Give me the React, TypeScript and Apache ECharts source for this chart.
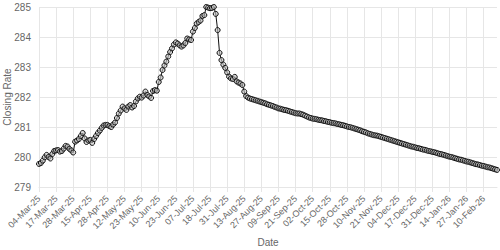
import React, { useEffect, useRef } from "react";
import * as echarts from "echarts";

const monthDays: [string, number[]][] = [
  ["Mar-25", [4, 5, 6, 7, 10, 11, 12, 13, 14, 17, 18, 19, 20, 21, 24, 25, 26, 27, 28, 31]],
  ["Apr-25", [1, 2, 3, 4, 7, 8, 9, 15, 16, 17, 18, 21, 22, 23, 24, 25, 28, 29, 30]],
  ["May-25", [2, 5, 6, 7, 8, 9, 12, 13, 14, 15, 16, 19, 20, 21, 22, 23, 26, 27, 28, 29, 30]],
  ["Jun-25", [2, 3, 4, 10, 11, 12, 13, 16, 17, 18, 19, 20, 23, 24, 25, 26, 27, 30]],
  ["Jul-25", [1, 2, 3, 7, 8, 9, 10, 11, 14, 15, 16, 17, 18, 21, 22, 23, 24, 25, 28, 29, 30, 31]],
  ["Aug-25", [1, 4, 5, 6, 7, 8, 11, 12, 13, 14, 15, 18, 19, 20, 21, 22, 25, 27, 28, 29]],
  ["Sep-25", [1, 2, 3, 4, 5, 8, 9, 10, 11, 12, 15, 16, 17, 18, 19, 21, 22, 23, 24, 25, 26, 29, 30]],
  ["Oct-25", [1, 2, 3, 6, 7, 8, 9, 10, 13, 14, 15, 16, 17, 20, 21, 22, 23, 24, 27, 28, 29, 30, 31]],
  ["Nov-25", [3, 4, 5, 6, 7, 10, 11, 12, 13, 14, 17, 18, 19, 20, 21, 24, 25, 26, 27, 28]],
  ["Dec-25", [1, 2, 3, 4, 5, 8, 9, 10, 11, 12, 15, 16, 17, 18, 19, 22, 23, 24, 26, 29, 30, 31]],
  ["Jan-26", [2, 5, 6, 7, 8, 9, 12, 13, 14, 15, 16, 19, 20, 21, 22, 23, 26, 27, 28, 29, 30]],
  ["Feb-26", [2, 3, 4, 5, 6, 10, 11, 12, 13, 16, 17, 18, 19]],
];

const dates: string[] = monthDays.flatMap(([m, days]) =>
  days.map((d) => `${String(d).padStart(2, "0")}-${m}`)
);

const closingRate: number[] = [
  279.77, 279.80, 279.88, 279.99, 280.07, 280.00, 279.95, 280.10, 280.20, 280.22,
  280.23, 280.18, 280.20, 280.28, 280.37, 280.35, 280.27, 280.22, 280.15, 280.51,
  280.55, 280.60, 280.70, 280.80, 280.62, 280.50, 280.55, 280.57, 280.47, 280.60,
  280.70, 280.80, 280.88, 280.97, 281.05, 281.07, 281.07, 281.03, 281.00, 281.08,
  281.15, 281.30, 281.45, 281.55, 281.68, 281.62, 281.57, 281.68, 281.73, 281.65,
  281.70, 281.85, 281.95, 282.01, 281.98, 282.05, 282.18, 282.07, 282.02, 281.97,
  282.20, 282.23, 282.21, 282.50, 282.65, 282.90, 283.05, 283.18, 283.35, 283.50,
  283.62, 283.75, 283.82, 283.78, 283.72, 283.68, 283.72, 283.80, 283.95, 283.92,
  283.90, 284.18, 284.30, 284.45, 284.50, 284.55, 284.70, 284.73, 285.00, 284.98,
  284.96, 284.97, 285.00, 284.77, 284.23, 283.47, 283.23, 283.08, 282.97, 282.82,
  282.68, 282.62, 282.60, 282.67, 282.52, 282.48, 282.45, 282.40, 282.18, 282.03,
  281.98, 281.95, 281.93, 281.91, 281.89, 281.87, 281.85, 281.83, 281.81, 281.79,
  281.76, 281.74, 281.72, 281.70, 281.67, 281.65, 281.62, 281.61, 281.59, 281.57,
  281.56, 281.54, 281.52, 281.50, 281.48, 281.46, 281.45, 281.45, 281.43, 281.41,
  281.38, 281.35, 281.32, 281.30, 281.28, 281.27, 281.26, 281.24, 281.23, 281.22,
  281.20, 281.19, 281.17, 281.16, 281.14, 281.13, 281.12, 281.10, 281.09, 281.07,
  281.06, 281.04, 281.02, 281.00, 280.99, 280.97, 280.95, 280.93, 280.91, 280.89,
  280.86, 280.84, 280.82, 280.79, 280.77, 280.75, 280.73, 280.72, 280.71, 280.69,
  280.67, 280.65, 280.63, 280.61, 280.59, 280.57, 280.55, 280.53, 280.51, 280.49,
  280.47, 280.45, 280.43, 280.41, 280.39, 280.37, 280.35, 280.34, 280.32, 280.30,
  280.29, 280.27, 280.25, 280.24, 280.22, 280.20, 280.19, 280.17, 280.16, 280.14,
  280.12, 280.10, 280.09, 280.07, 280.05, 280.03, 280.01, 280.00, 279.98, 279.96,
  279.94, 279.92, 279.91, 279.89, 279.87, 279.85, 279.84, 279.82, 279.80, 279.78,
  279.76, 279.75, 279.73, 279.71, 279.70, 279.68, 279.66, 279.65, 279.63, 279.61,
  279.59, 279.57,
];

const yMin = 279;
const yMax = 285;
const yStep = 1;
const labelEvery = 9;

export default function App() {
  const ref = useRef<HTMLDivElement>(null);
  useEffect(() => {
    if (!ref.current) return;
    const chart = echarts.init(ref.current, null, { renderer: "svg" });
    const gridColor = "#e6e6e6";
    const textColor = "#666";
    const font = "Liberation Sans, Arial, sans-serif";
    chart.setOption({
      animation: false,
      backgroundColor: "#fff",
      grid: {
        left: 39,
        right: 3,
        top: 7,
        bottom: 63,
        containLabel: false,
        outerBoundsMode: "none",
      },
      xAxis: {
        type: "category",
        data: dates,
        boundaryGap: false,
        name: "Date",
        nameLocation: "middle",
        nameGap: 50,
        nameMoveOverlap: false,
        nameTextStyle: { color: textColor, fontSize: 10, fontFamily: font },
        axisLine: { show: true, lineStyle: { color: gridColor } },
        axisTick: {
          show: true,
          interval: labelEvery - 1,
          length: 5,
          lineStyle: { color: gridColor },
        },
        axisLabel: {
          interval: labelEvery - 1,
          rotate: 45,
          color: textColor,
          fontSize: 9,
          fontFamily: font,
          margin: 10,
        },
        splitLine: {
          show: true,
          interval: labelEvery - 1,
          lineStyle: { color: gridColor, width: 1 },
        },
      },
      yAxis: {
        type: "value",
        min: yMin,
        max: yMax,
        interval: yStep,
        name: "Closing Rate",
        nameLocation: "middle",
        nameGap: 27,
        nameMoveOverlap: false,
        nameTextStyle: { color: textColor, fontSize: 10, fontFamily: font },
        axisLine: { show: false },
        axisTick: { show: false },
        axisLabel: { color: textColor, fontSize: 10, fontFamily: font, margin: 8 },
        splitLine: { show: true, lineStyle: { color: gridColor, width: 1 } },
      },
      series: [
        {
          type: "line",
          data: closingRate,
          symbol: "circle",
          symbolSize: 5,
          showAllSymbol: true,
          lineStyle: { color: "#111", width: 1 },
          itemStyle: { color: "rgba(190,190,190,0.6)", borderColor: "#111", borderWidth: 1 },
        },
      ],
    });
    return () => chart.dispose();
  }, []);
  return (
    <div
      ref={ref}
      style={{ position: "absolute", left: 0, top: 0, width: 500, height: 250 }}
    />
  );
}
